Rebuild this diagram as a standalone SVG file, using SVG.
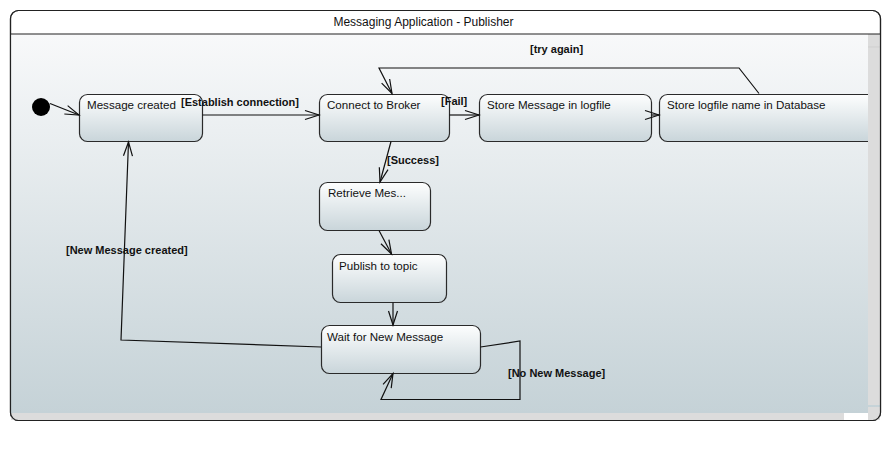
<svg xmlns="http://www.w3.org/2000/svg" width="891" height="453" viewBox="0 0 891 453">
<style>
.node{stroke:#2a2a2a;stroke-width:1.2;fill:url(#nodeGrad)}
.nt{font-family:"Liberation Sans",Arial,sans-serif;font-size:11.6px;fill:#111}
.lbl{font-family:"Liberation Sans",Arial,sans-serif;font-size:11px;font-weight:bold;fill:#111}
.edge{fill:none;stroke:#111;stroke-width:1.2;marker-end:url(#arr)}
</style>
<defs>
<linearGradient id="bgGrad" x1="0" y1="0" x2="0" y2="1">
<stop offset="0" stop-color="#f8f9fa"/>
<stop offset="1" stop-color="#c5d2d7"/>
</linearGradient>
<linearGradient id="nodeGrad" x1="0" y1="0" x2="0" y2="1">
<stop offset="0" stop-color="#fdfefe"/>
<stop offset="1" stop-color="#c9d5da"/>
</linearGradient>
<marker id="arr" markerUnits="userSpaceOnUse" markerWidth="16" markerHeight="12" refX="14" refY="5" orient="auto" overflow="visible">
<path d="M0,0.5 L14,5 L0,9.5" fill="none" stroke="#111" stroke-width="1.2"/>
</marker>
<clipPath id="content"><rect x="11" y="34" width="869" height="386"/></clipPath>
</defs>
<rect width="891" height="453" fill="#ffffff"/>
<g id="frame">
<rect x="10.5" y="10.5" width="870" height="410" rx="8" fill="#ffffff" stroke="#222" stroke-width="1.2"/>
<text x="423.5" y="26" text-anchor="middle" font-family="'Liberation Sans',Arial,sans-serif" font-size="12px" fill="#111">Messaging Application - Publisher</text>
</g>
<g clip-path="url(#content)">
<rect x="11" y="34" width="869" height="379" fill="url(#bgGrad)"/>
<g id="initial"><circle cx="41" cy="107" r="9" fill="#000"/></g>
<g id="n-message-created"><rect class="node" x="79.5" y="94.5" width="123" height="47" rx="8"/><text class="nt" x="87" y="109">Message created</text></g>
<g id="n-connect"><rect class="node" x="319.5" y="94.5" width="130" height="47" rx="8"/><text class="nt" x="327" y="109">Connect to Broker</text></g>
<g id="n-store-msg"><rect class="node" x="479.5" y="94.5" width="172" height="47" rx="8"/><text class="nt" x="487" y="109">Store Message in logfile</text></g>
<g id="n-store-db"><rect class="node" x="659.5" y="94.5" width="230" height="47" rx="8"/><text class="nt" x="667" y="109">Store logfile name in Database</text></g>
<g id="n-retrieve"><rect class="node" x="319.5" y="182.5" width="111" height="48" rx="8"/><text class="nt" x="328" y="197">Retrieve Mes...</text></g>
<g id="n-publish"><rect class="node" x="332.5" y="254.5" width="114" height="48" rx="8"/><text class="nt" x="339" y="270">Publish to topic</text></g>
<g id="n-wait"><rect class="node" x="321.5" y="325.5" width="159" height="48" rx="8"/><text class="nt" x="327" y="341">Wait for New Message</text></g>
<g id="connectors">
<path class="edge" d="M50,103.5 L79,115"/>
<path class="edge" d="M202.5,115 L319,115"/>
<path class="edge" d="M449.5,115 L479,115"/>
<path class="edge" d="M651.5,115 L659,115"/>
<path class="edge" d="M759,93.5 L739,68 L379,68 L392,93.5"/>
<path class="edge" d="M391,141.5 L380,182"/>
<path class="edge" d="M379,230.5 L391.5,254"/>
<path class="edge" d="M393,302.5 L393,325"/>
<path class="edge" d="M480.5,347 L520,341 L520,399.5 L381,399.5 L393,373.5"/>
<path class="edge" d="M321,347 L121,340 L128.5,142"/>
<text class="lbl" x="181" y="106">[Establish connection]</text>
<text class="lbl" x="441" y="105">[Fail]</text>
<text class="lbl" x="530" y="53">[try again]</text>
<text class="lbl" x="387" y="164">[Success]</text>
<text class="lbl" x="66" y="254">[New Message created]</text>
<text class="lbl" x="508" y="377">[No New Message]</text>
</g>
<rect x="868" y="34" width="12" height="371" fill="#dcdcdc"/>
<line x1="868" y1="47" x2="880" y2="47" stroke="#cfcfcf"/>
<rect x="868" y="407" width="12" height="14" fill="#dcdcdc"/>
<rect x="11" y="413" width="833" height="8" fill="#dcdcdc"/>
<rect x="844" y="413" width="24" height="8" fill="#ffffff"/>
</g>
<rect x="10.5" y="10.5" width="870" height="410" rx="8" fill="none" stroke="#222" stroke-width="1.2"/>
<line x1="11" y1="34" x2="881" y2="34" stroke="#222" stroke-width="1.2"/>
</svg>
